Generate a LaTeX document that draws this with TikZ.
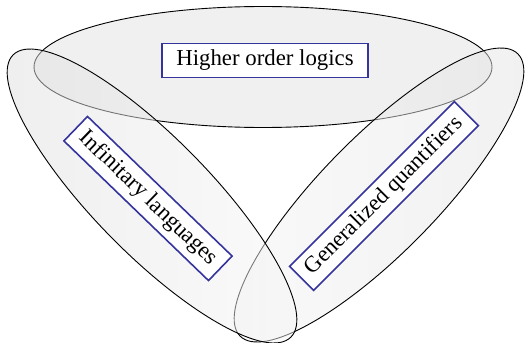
\documentclass[tikz,border=0pt]{standalone}
\usepackage{fontspec}
\setmainfont{Liberation Serif}
\usetikzlibrary{shapes.geometric}

\definecolor{boxblue}{RGB}{52,52,156}

\begin{document}
\begin{tikzpicture}[
    x=1pt, y=-1pt,
    area/.style   = {ellipse, draw, inner sep=0pt, line width=0.9pt},
    logicbox/.style = {rectangle, draw=boxblue, line width=1.6pt, fill=white,
                     inner xsep=0pt, inner ysep=0pt, minimum height=34pt,
                     font=\fontsize{22.8}{26}\selectfont}
]
\useasboundingbox (0,0) rectangle (526,342);

% ========= the three areas =========
\node[area, fill=gray!12, minimum width=458pt, minimum height=121pt]
    (hoell) at (263,67) {};
\node[area, left color=gray!8, right color=gray!22, fill opacity=0.5,
      minimum width=396pt, minimum height=116pt, rotate=45.5]
    (gqell) at (379,195) {};
\node[area, left color=gray!26, right color=gray!6, fill opacity=0.5,
      minimum width=396pt, minimum height=116pt, rotate=-45.5]
    (ilell) at (152,196) {};

% ========= labels =========
\node[logicbox, minimum width=206pt] (ho) at (265,60.5) {Higher order logics};
\node[logicbox, minimum width=201pt, rotate=-44] (il) at (148,198.5) {Infinitary languages};
\node[logicbox, minimum width=233pt, rotate=45] (gq) at (384,196) {Generalized quantifiers};

\end{tikzpicture}
\end{document}
